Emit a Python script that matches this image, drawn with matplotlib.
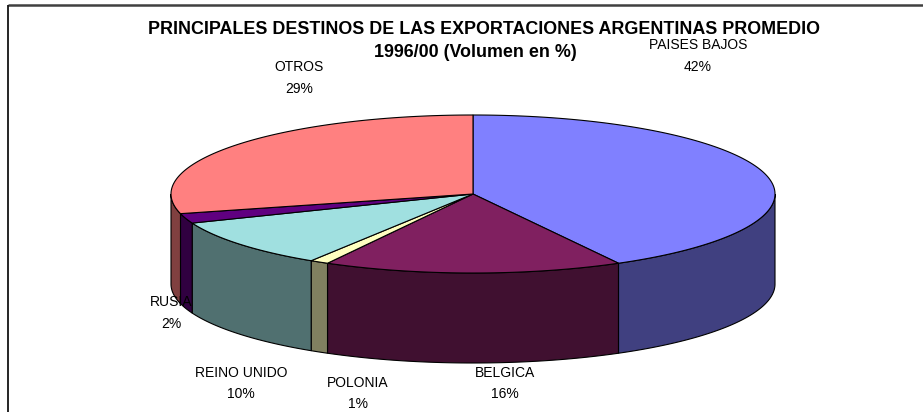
import numpy as np
import matplotlib
matplotlib.use("Agg")
import matplotlib.pyplot as plt
from matplotlib.patches import Polygon, Rectangle

# data (clockwise from 12 o'clock)
countries = ["PAISES BAJOS", "BELGICA", "POLONIA", "REINO UNIDO", "RUSIA", "OTROS"]
shares = [42, 16, 1, 10, 2, 29]

top_colors = ["#8080FF", "#802060", "#FFFFC0", "#A0E0E0", "#600080", "#FF8080"]
side_colors = ["#404080", "#401030", "#808060", "#507070", "#300040", "#804040"]

# label anchor (pixels) for name line; percent goes one line below
label_pos = [(698, 45), (505, 373), (358, 383), (241, 373), (171, 302), (299, 67)]
line_gap = 21.5

plt.rcParams['font.family'] = ['Liberation Sans', 'DejaVu Sans']

W, H = 923, 412
fig = plt.figure(figsize=(W / 100, H / 100), dpi=100)
ax = fig.add_axes([0, 0, 1, 1])
ax.set_xlim(0, W)
ax.set_ylim(H, 0)
ax.axis('off')

# chart frame
ax.plot([8, W], [5, 5], color='#404040', lw=1.8, solid_capstyle='butt')
ax.plot([8, 8], [5, H], color='black', lw=1.2, solid_capstyle='butt')

# pie geometry (pixels)
cx, cy, rx, ry, depth = 473, 194, 302, 79, 90


def ell(theta):
    return cx + rx * np.cos(theta), cy - ry * np.sin(theta)


fracs = np.array(shares, dtype=float) / np.sum(shares)
starts = np.pi / 2 - 2 * np.pi * np.concatenate([[0], np.cumsum(fracs)[:-1]])
ends = starts - 2 * np.pi * fracs

# sides: only the front half (angles between -pi and 0) are visible
for a0, a1, col in zip(starts, ends, side_colors):
    lo, hi = a1, a0
    for shift in (0, -2 * np.pi, 2 * np.pi):
        s_lo, s_hi = max(lo + shift, -np.pi), min(hi + shift, 0)
        if s_hi > s_lo:
            th = np.linspace(s_hi, s_lo, 120)
            x, y = ell(th)
            pts = np.vstack([np.column_stack([x, y]),
                             np.column_stack([x[::-1], y[::-1] + depth])])
            ax.add_patch(Polygon(pts, closed=True, facecolor=col,
                                 edgecolor='black', lw=0.8, zorder=2))

# tops
for a0, a1, col in zip(starts, ends, top_colors):
    th = np.linspace(a0, a1, 200)
    x, y = ell(th)
    pts = np.vstack([[cx, cy], np.column_stack([x, y])])
    ax.add_patch(Polygon(pts, closed=True, facecolor=col,
                         edgecolor='black', lw=0.8, zorder=3))

# labels
for name, val, (lx, ly) in zip(countries, shares, label_pos):
    t1 = ax.text(lx, ly, name, ha='center', va='center', fontsize=10,
                 color='black', zorder=4)
    ax.text(lx, ly + line_gap, f"{val}%", ha='center', va='center', fontsize=10,
            color='black', zorder=4)
    if name == "OTROS":
        t1.set_clip_path(Rectangle((0, 0), 322, H, transform=ax.transData))

# title (the first line is cut off at the right in the original)
t = ax.text(148, 29, "PRINCIPALES DESTINOS DE LAS EXPORTACIONES ARGENTINAS PROMEDIO",
            ha='left', va='center', fontsize=12.9, fontweight='bold', zorder=5)
t.set_clip_path(Rectangle((0, 0), 812, H, transform=ax.transData))
ax.text(475, 52, "1996/00 (Volumen en %)", ha='center', va='center',
        fontsize=12.9, fontweight='bold', zorder=5)

fig.savefig("out.png", dpi=100)
